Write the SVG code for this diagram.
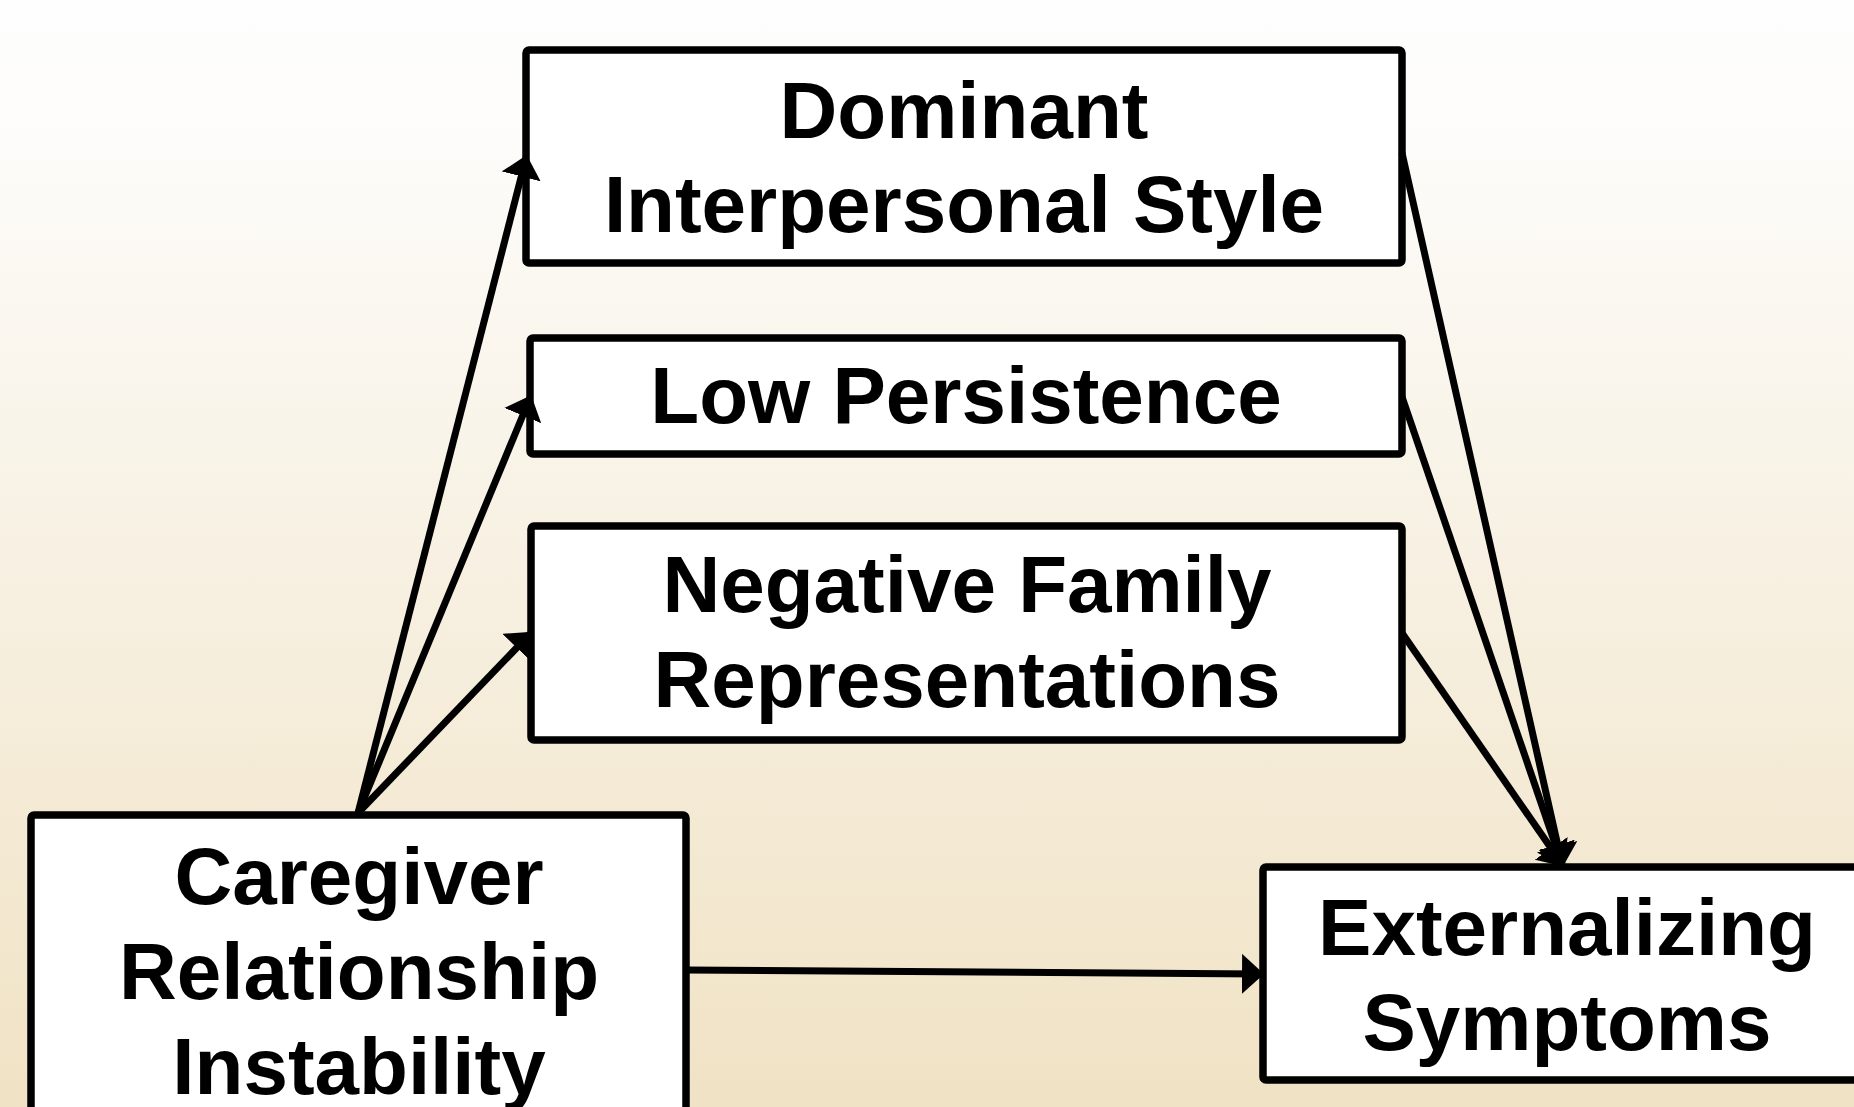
<svg xmlns="http://www.w3.org/2000/svg" width="1854" height="1107" viewBox="0 0 1854 1107">
  <defs>
    <linearGradient id="bg" x1="0" y1="0" x2="0" y2="1">
      <stop offset="0" stop-color="#fefefe"/>
      <stop offset="0.12" stop-color="#fdfcfa"/>
      <stop offset="1" stop-color="#f0e2c4"/>
    </linearGradient>
    <marker id="arrow" viewBox="0 0 22 40" refX="19" refY="20" markerWidth="22" markerHeight="40" markerUnits="userSpaceOnUse" orient="auto">
      <path d="M0,0 L22,20 L0,40 Z" fill="#000"/>
    </marker>
    <style>
      .box { fill: #ffffff; stroke: #000; stroke-width: 7.5; }
      .lbl { font-family: "Liberation Sans", Arial, sans-serif; font-weight: bold; font-size: 80px; fill: #000; text-anchor: middle; }
      .edge { stroke: #000; stroke-width: 7; fill: none; marker-end: url(#arrow); }
    </style>
  </defs>
  <rect x="0" y="0" width="1854" height="1107" fill="url(#bg)"/>

  <g id="node-dominant">
    <rect class="box" x="526" y="50" width="876" height="213" rx="3"/>
    <text class="lbl" x="964" y="138">Dominant</text>
    <text class="lbl" x="964" y="232">Interpersonal Style</text>
  </g>
  <g id="node-persistence">
    <rect class="box" x="530" y="338" width="872" height="116" rx="3"/>
    <text class="lbl" x="966" y="423">Low Persistence</text>
  </g>
  <g id="node-family">
    <rect class="box" x="531" y="526" width="871" height="214" rx="3"/>
    <text class="lbl" x="967" y="612">Negative Family</text>
    <text class="lbl" x="967" y="707">Representations</text>
  </g>
  <g id="node-caregiver">
    <rect class="box" x="31" y="815" width="655" height="400" rx="3"/>
    <text class="lbl" x="359" y="904">Caregiver</text>
    <text class="lbl" x="359" y="999">Relationship</text>
    <text class="lbl" x="359" y="1094">Instability</text>
  </g>
  <g id="node-externalizing">
    <rect class="box" x="1263" y="867" width="700" height="213" rx="3"/>
    <text class="lbl" x="1567" y="955">Externalizing</text>
    <text class="lbl" x="1567" y="1050">Symptoms</text>
  </g>

  <g id="connectors">
    <line class="edge" x1="358" y1="813" x2="526" y2="158"/>
    <line class="edge" x1="358" y1="813" x2="530" y2="398"/>
    <line class="edge" x1="358" y1="813" x2="530" y2="634"/>
    <line class="edge" x1="1402" y1="153" x2="1562" y2="864"/>
    <line class="edge" x1="1402" y1="397" x2="1562" y2="864"/>
    <line class="edge" x1="1402" y1="633" x2="1562" y2="864"/>
    <line class="edge" x1="686" y1="970" x2="1261" y2="974"/>
  </g>
</svg>
